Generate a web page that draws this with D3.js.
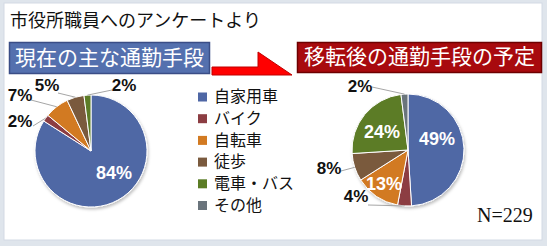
<!DOCTYPE html>
<html>
<head>
<meta charset="utf-8">
<script src="https://cdn.jsdelivr.net/npm/d3@7"></script>
<style>
  html, body { margin: 0; padding: 0; background: #dfe5ec; }
  svg { display: block; }
</style>
</head>
<body>
<svg id="chart" width="547" height="246"></svg>
<script>
// Commuting survey of city hall staff (N=229)
const categories = ["自家用車", "バイク", "自転車", "徒歩", "電車・バス", "その他"];
const currentShare = [84, 2, 7, 5, 2, 0];
const plannedShare = [49, 4, 13, 8, 24, 2];
const colors = ["#4f67a5", "#8c3d42", "#d27a22", "#7a5a3e", "#5b7c25", "#6a747c"];

const mainTitle = "市役所職員へのアンケートより";
const leftTitle = "現在の主な通勤手段";
const rightTitle = "移転後の通勤手段の予定";
const sampleNote = "N=229";

const svg = d3.select("#chart");
const W = 547, H = 246;

// frame
svg.append("rect").attr("width", W).attr("height", H).attr("fill", "#dfe5ec");
svg.append("rect").attr("x", 4).attr("y", 3).attr("width", 538).attr("height", 237)
  .attr("fill", "#ffffff").attr("stroke", "#d3dae4").attr("stroke-width", 1);

const jp = "'Noto Sans CJK JP', 'Noto Sans', sans-serif";

svg.append("text").attr("x", 10).attr("y", 27)
  .attr("font-family", jp).attr("font-size", 18).attr("fill", "#111")
  .text(mainTitle);

// section headers
function header(x, y, w, h, fill, stroke, label) {
  svg.append("rect").attr("x", x).attr("y", y).attr("width", w).attr("height", h)
    .attr("fill", fill).attr("stroke", stroke).attr("stroke-width", 1.5);
  svg.append("text").attr("x", x + w / 2).attr("y", y + h / 2 + 1)
    .attr("text-anchor", "middle").attr("dominant-baseline", "middle")
    .attr("font-family", jp).attr("font-size", 21).attr("fill", "#fff")
    .text(label);
}
header(9.5, 42.5, 200, 31, "#5470ae", "#3a4d86", leftTitle);
header(297.5, 42.5, 244, 30, "#a80a0e", "#6e0000", rightTitle);

// bent arrow between the headers
svg.append("path")
  .attr("d", "M212,67 L258,67 L258,52 L292,75 L212,75 Z")
  .attr("fill", "#ff0000").attr("stroke", "#c00000").attr("stroke-width", 1);

// pies
const pie = d3.pie().sort(null).value(d => d.v);
const R = 56;
const arc = d3.arc().innerRadius(0).outerRadius(R);

const defs = svg.append("defs");
defs.append("filter").attr("id", "shadow").attr("x", "-20%").attr("y", "-20%")
  .attr("width", "140%").attr("height", "140%")
  .append("feDropShadow").attr("dx", 1).attr("dy", 2).attr("stdDeviation", 1.5)
  .attr("flood-color", "#000").attr("flood-opacity", 0.25);

function drawPie(cx, cy, values, labelLayout) {
  const data = values.map((v, i) => ({ v, i }));
  const arcs = pie(data);
  const g = svg.append("g").attr("transform", `translate(${cx},${cy})`);
  g.append("g").attr("filter", "url(#shadow)")
    .selectAll("path").data(arcs.filter(a => a.data.v > 0)).join("path")
    .attr("d", arc).attr("fill", d => colors[d.data.i])
    .attr("stroke", "#fff").attr("stroke-width", 1);

  const outer = d3.arc().innerRadius(R).outerRadius(R);
  labelLayout.forEach(l => {
    const a = arcs[l.i];
    const val = values[l.i];
    if (l.inside) {
      g.append("text").attr("x", l.dx).attr("y", l.dy)
        .attr("text-anchor", "middle").attr("dominant-baseline", "middle")
        .attr("font-family", "'Liberation Sans', Arial, sans-serif")
        .attr("font-weight", "bold").attr("font-size", 18).attr("fill", "#fff")
        .text(val + "%");
    } else {
      const [ex, ey] = outer.centroid(a);
      g.append("line").attr("x1", l.lx).attr("y1", l.ly).attr("x2", ex).attr("y2", ey)
        .attr("stroke", "#a6a6a6").attr("stroke-width", 1);
      g.append("text").attr("x", l.dx).attr("y", l.dy)
        .attr("text-anchor", "middle").attr("dominant-baseline", "middle")
        .attr("font-family", "'Liberation Sans', Arial, sans-serif")
        .attr("font-weight", "bold").attr("font-size", 17).attr("fill", "#111")
        .text(val + "%");
    }
  });
}

// label offsets relative to the pie centre
drawPie(91, 151, currentShare, [
  { i: 0, inside: true, dx: 23, dy: 23 },
  { i: 1, dx: -71, dy: -28, lx: -58, ly: -25 },
  { i: 2, dx: -71, dy: -54, lx: -60, ly: -51 },
  { i: 3, dx: -44, dy: -64, lx: -33, ly: -58 },
  { i: 4, dx: 33, dy: -64, lx: 21, ly: -61 }
]);

drawPie(408, 150, plannedShare, [
  { i: 0, inside: true, dx: 29, dy: -10 },
  { i: 4, inside: true, dx: -26, dy: -17 },
  { i: 2, inside: true, dx: -24, dy: 35 },
  { i: 1, dx: -52, dy: 48, lx: -40, ly: 55 },
  { i: 3, dx: -79, dy: 20, lx: -67, ly: 21 },
  { i: 5, dx: -48, dy: -62, lx: -36, ly: -63 }
]);

// legend
const legend = svg.append("g").attr("transform", "translate(198,97)");
const rows = legend.selectAll("g").data(categories).join("g")
  .attr("transform", (d, i) => `translate(0,${i * 21.7})`);
rows.append("rect").attr("x", 0).attr("y", -4.5).attr("width", 9).attr("height", 9)
  .attr("fill", (d, i) => colors[i]);
rows.append("text").attr("x", 16).attr("y", 1)
  .attr("dominant-baseline", "middle")
  .attr("font-family", jp).attr("font-size", 16).attr("fill", "#111")
  .text(d => d);

svg.append("text").attr("x", 477).attr("y", 222)
  .attr("font-family", "'Liberation Serif', 'Times New Roman', serif")
  .attr("font-size", 20).attr("fill", "#111")
  .text(sampleNote);
</script>
</body>
</html>
